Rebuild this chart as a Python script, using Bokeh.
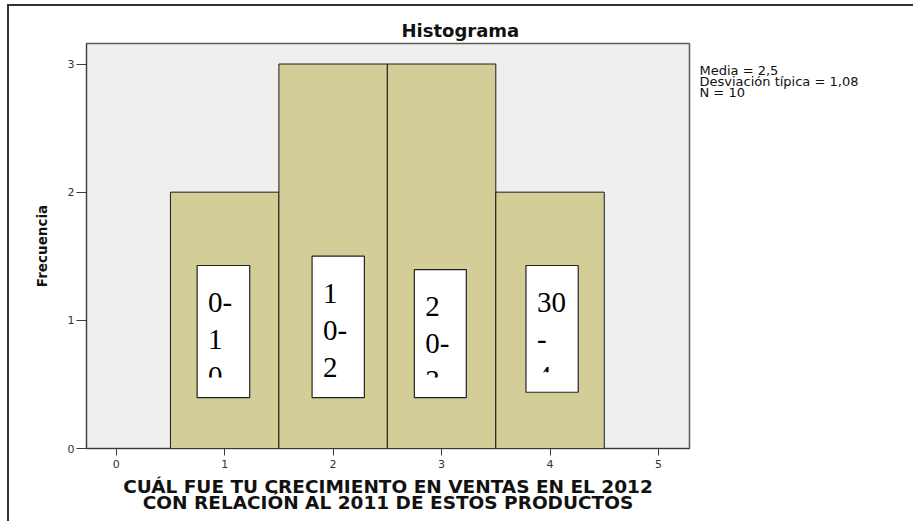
import math
from bokeh.plotting import figure
from bokeh.layouts import row
from bokeh.models import FixedTicker, Range1d
from bokeh.core.properties import value
from bokeh.embed import file_html
from bokeh.resources import INLINE

# ---------------- data ----------------
bin_centers = [1, 2, 3, 4]
frequencies = [2, 3, 3, 2]
x_ticks = [0, 1, 2, 3, 4, 5]
y_ticks = [0, 1, 2, 3]
range_labels = ["0-10", "10-20", "20-30", "30-40"]
range_label_lines = [["0-", "1", "0"], ["1", "0-", "2"], ["2", "0-", "3"], ["30", "-", "4"]]
title_text = "Histograma"
x_title = "CUÁL FUE TU CRECIMIENTO EN VENTAS EN EL 2012\nCON RELACIÓN AL 2011 DE ESTOS PRODUCTOS"
y_title = "Frecuencia"

# placement of the pasted text boxes (data coordinates)
box_left = [0.746, 1.806, 2.749, 3.778]
box_right = [1.231, 2.288, 3.228, 4.260]
box_top = [1.428, 1.501, 1.395, 1.428]
box_bottom = [0.397, 0.397, 0.397, 0.439]

# ---------------- statistics ----------------
N = sum(frequencies)
mean = sum(c * f for c, f in zip(bin_centers, frequencies)) / N
sd = math.sqrt(sum(f * (c - mean) ** 2 for c, f in zip(bin_centers, frequencies)) / (N - 1))
stats_lines = [
    "Media = " + f"{mean:.1f}".replace(".", ","),
    "Desviación típica = " + f"{sd:.2f}".replace(".", ","),
    f"N = {N}",
]

# ---------------- layout ----------------
H = 515
ML, MT, MR, MB = 77, 37, 8, 73
FRAME_W = 603
W = ML + FRAME_W + MR
W2 = 216
frame_h = H - MT - MB
x0, x1 = -0.274, 5.286
y0, y1 = 0.0, 3.16
px_y = (y1 - y0) / frame_h
y_range = Range1d(y0, y1)

FONT = "DejaVu Sans"
DARK = "#3a3a3a"

p = figure(width=W, height=H, output_backend="svg", toolbar_location=None,
           x_range=(x0, x1), y_range=y_range,
           min_border_left=ML, min_border_right=MR, min_border_top=MT, min_border_bottom=MB,
           background_fill_color="#efefef", border_fill_color="white",
           outline_line_color="#5a5a5a", outline_line_width=1.5)

p.title.text = title_text
p.title.align = "left"
p.title.offset = 315
p.title.standoff = 6
p.title.text_font = FONT
p.title.text_font_size = "18px"
p.title.text_font_style = "bold"
p.title.text_color = "#111111"

p.grid.visible = False

# x axis
p.xaxis.ticker = FixedTicker(ticks=x_ticks)
p.xaxis.minor_tick_line_color = None
p.xaxis.major_tick_out = 7
p.xaxis.major_tick_in = 0
p.xaxis.major_label_standoff = 4
p.xaxis.axis_line_color = DARK
p.xaxis.major_tick_line_color = DARK
p.xaxis.major_label_text_font = FONT
p.xaxis.major_label_text_font_size = "11px"
p.xaxis.major_label_text_color = "#333333"
p.xaxis.axis_label = x_title
p.xaxis.axis_label_text_font = FONT
p.xaxis.axis_label_text_font_size = "18.5px"
p.xaxis.axis_label_text_font_style = "bold"
p.xaxis.axis_label_text_color = "#111111"
p.xaxis.axis_label_text_line_height = 0.8
p.xaxis.axis_label_standoff = 5

# y axis
p.yaxis.ticker = FixedTicker(ticks=y_ticks)
p.yaxis.minor_tick_line_color = None
p.yaxis.major_tick_out = 10
p.yaxis.major_tick_in = 0
p.yaxis.major_label_standoff = 2
p.yaxis.axis_line_color = DARK
p.yaxis.major_tick_line_color = DARK
p.yaxis.major_label_text_font = FONT
p.yaxis.major_label_text_font_size = "11px"
p.yaxis.major_label_text_color = "#333333"
p.yaxis.axis_label = y_title
p.yaxis.axis_label_text_font = FONT
p.yaxis.axis_label_text_font_size = "13.5px"
p.yaxis.axis_label_text_font_style = "bold"
p.yaxis.axis_label_text_color = "#111111"
p.yaxis.axis_label_standoff = 15

# bars
p.quad(left=[c - 0.5 for c in bin_centers], right=[c + 0.5 for c in bin_centers],
       bottom=[0] * len(bin_centers), top=frequencies,
       fill_color="#d3ce98", line_color="#1a1a1a", line_width=1)

# pasted text boxes
p.quad(left=box_left, right=box_right, bottom=box_bottom, top=box_top,
       fill_color="white", line_color=None)
tx, ty, tt, toff = [], [], [], []
for i, lines in enumerate(range_label_lines):
    for j, s in enumerate(lines):
        tx.append(box_left[i]); ty.append(box_top[i]); tt.append(s)
        toff.append(37 + 37 * j)
p.text(x=tx, y=ty, text=tt, x_offset=11, y_offset=toff,
       text_font=value("Liberation Serif"), text_font_size="29px",
       text_color="black", text_baseline="alphabetic", text_align="left")
clip_gap = 20 * px_y
p.quad(left=box_left, right=box_right, bottom=box_bottom,
       top=[b + clip_gap for b in box_bottom], fill_color="white", line_color=None)
p.quad(left=box_left, right=box_right, bottom=box_bottom, top=box_top,
       fill_color=None, line_color="#222222", line_width=1.2)

# statistics panel to the right of the chart; shares the chart's vertical scale
p2 = figure(width=W2, height=H, output_backend="svg", toolbar_location=None,
            x_range=(0, W2), y_range=y_range, x_axis_type=None, y_axis_type=None,
            min_border_left=0, min_border_right=0, min_border_top=MT, min_border_bottom=MB,
            outline_line_color=None,
            background_fill_color="white", border_fill_color="white")
p2.grid.visible = False
STATS_X, STATS_TOP_PX, STATS_PITCH_PX = 2, 27, 10.9
p2.text(x=[STATS_X] * len(stats_lines),
        y=[y1 - (STATS_TOP_PX + STATS_PITCH_PX * k) * px_y for k in range(len(stats_lines))],
        text=stats_lines, text_font=value(FONT), text_font_size="13px",
        text_color="#111111", text_baseline="alphabetic", text_align="left")

layout = row(p, p2)
layout.styles = {"border-left": "2px solid #333333", "border-top": "2px solid #333333",
                 "margin-left": "7px", "margin-top": "4px"}

open("out.html", "w").write(file_html(layout, INLINE))
